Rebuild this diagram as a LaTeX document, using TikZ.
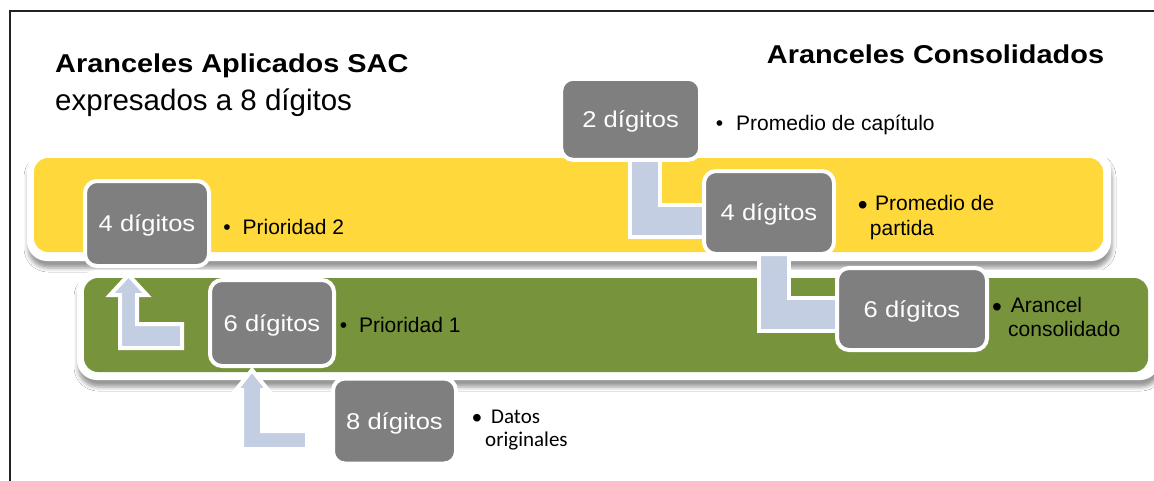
\documentclass[tikz,border=0pt]{standalone}
\usepackage{fontspec}
\setmainfont{Liberation Sans}
\newfontfamily\boxfont{Liberation Sans}[FakeStretch=1.12]
\newfontfamily\titlefont{Liberation Sans}[FakeStretch=1.12]
\newfontfamily\calfont{Carlito}
\usetikzlibrary{shadows.blur}
\definecolor{bandyellow}{HTML}{FFD83B}
\definecolor{bandgreen}{HTML}{77933C}
\definecolor{boxgrey}{HTML}{7F7F7F}
\definecolor{arrowblue}{HTML}{C3CEE2}
\definecolor{framegrey}{HTML}{222222}
\begin{document}
\begin{tikzpicture}[x=1pt,y=-1pt,
  digbox/.style={draw=white, line width=4pt, fill=boxgrey, rounded corners=12pt,
    inner sep=0pt, text depth=0pt, text=white, font=\boxfont\fontsize{22.8}{26}\selectfont},
  bandouter/.style={fill=white, rounded corners=20pt,
    blur shadow={shadow xshift=1pt, shadow yshift=-7pt, shadow blur radius=4pt, shadow opacity=40}},
  bandinner/.style={rounded corners=14pt},
  blockarrow/.style={fill=arrowblue, draw=white, line width=4pt, line join=miter},
  btxt/.style={anchor=base west, inner sep=0pt, font=\fontsize{21}{24}\selectfont},
  ctxt/.style={anchor=base west, inner sep=0pt, font=\calfont\fontsize{21}{24}\selectfont},
  smallbul/.style={anchor=base, inner sep=0pt, font=\fontsize{21}{24}\selectfont},
  bigbul/.style={anchor=base, inner sep=0pt, font=\fontsize{28}{30}\selectfont},
  titlebold/.style={anchor=base west, inner sep=0pt, font=\titlefont\bfseries\fontsize{25.8}{30}\selectfont},
  titleplain/.style={anchor=base west, inner sep=0pt, font=\fontsize{29.5}{34}\selectfont}
]
\useasboundingbox (0,0) rectangle (1154,480);
\fill[white] (0,0) rectangle (1154,480);
% frame
\draw[framegrey, line width=1.4pt] (10,482) -- (10,11) -- (1156,11);
% titles
\node[titlebold] (t1) at (55,72.7) {Aranceles Aplicados SAC};
\node[titleplain] (t2) at (55,110) {expresados a 8 dígitos};
\node[titlebold] (t3) at (766.7,63.3) {Aranceles Consolidados};
% bands
\path[bandouter] (27,150) rectangle (1111,261);
\fill[bandyellow, bandinner] (34,158) rectangle (1103,252);
\path[bandouter] (77,270) rectangle (1160,380);
\fill[bandgreen, bandinner] (84,278) rectangle (1148,372);
% block arrows
\draw[blockarrow] (120,348) -- (182,348) -- (182,324) -- (137,324) -- (137,295)
  -- (147,295) -- (128.5,275) -- (110,295) -- (120,295) -- cycle;
\draw[blockarrow] (242,449) -- (307,449) -- (307,431) -- (262,431) -- (262,390)
  -- (268,390) -- (252,370) -- (236,390) -- (242,390) -- cycle;
\draw[blockarrow] (630,150) -- (660,150) -- (660,205) -- (712,205) -- (712,237)
  -- (630,237) -- cycle;
\draw[blockarrow] (759,245) -- (789,245) -- (789,298) -- (845,298) -- (845,331)
  -- (759,331) -- cycle;
% grey boxes
\node[digbox, minimum width=124pt, minimum height=85pt] (A4) at (147,223.5) {4 dígitos};
\node[digbox, minimum width=124pt, minimum height=86pt] (A6) at (272,323) {6 dígitos};
\node[digbox, minimum width=123pt, minimum height=85pt] (A8) at (394.5,421) {8 dígitos};
\node[digbox, minimum width=139pt, minimum height=81pt] (C2) at (630.7,119.3) {2 dígitos};
\node[digbox, minimum width=130pt, minimum height=83pt] (C4) at (769,212.5) {4 dígitos};
\node[digbox, minimum width=150pt, minimum height=82pt] (C6) at (912,309) {6 dígitos};
% bullet texts
\node[smallbul] (bp2) at (227,234) {•};
\node[btxt] (tp2) at (242.4,234) {Prioridad 2};
\node[smallbul] (bp1) at (343.5,332.7) {•};
\node[btxt] (tp1) at (358.8,332.7) {Prioridad 1};
\node[bigbul] (bdo) at (477,427) {•};
\node[ctxt] (tdo1) at (491,423.3) {Datos};
\node[ctxt] (tdo2) at (485,446) {originales};
\node[smallbul] (bpc) at (719.5,130) {•};
\node[btxt] (tpc) at (736,130) {Promedio de capítulo};
\node[bigbul] (bpp) at (862.8,214.5) {•};
\node[btxt] (tpp1) at (875,210.7) {Promedio de};
\node[btxt] (tpp2) at (869.7,235) {partida};
\node[bigbul] (bac) at (997,316.5) {•};
\node[btxt] (tac1) at (1010.7,312.7) {Arancel};
\node[btxt] (tac2) at (1008,336) {consolidado};
\end{tikzpicture}
\end{document}
